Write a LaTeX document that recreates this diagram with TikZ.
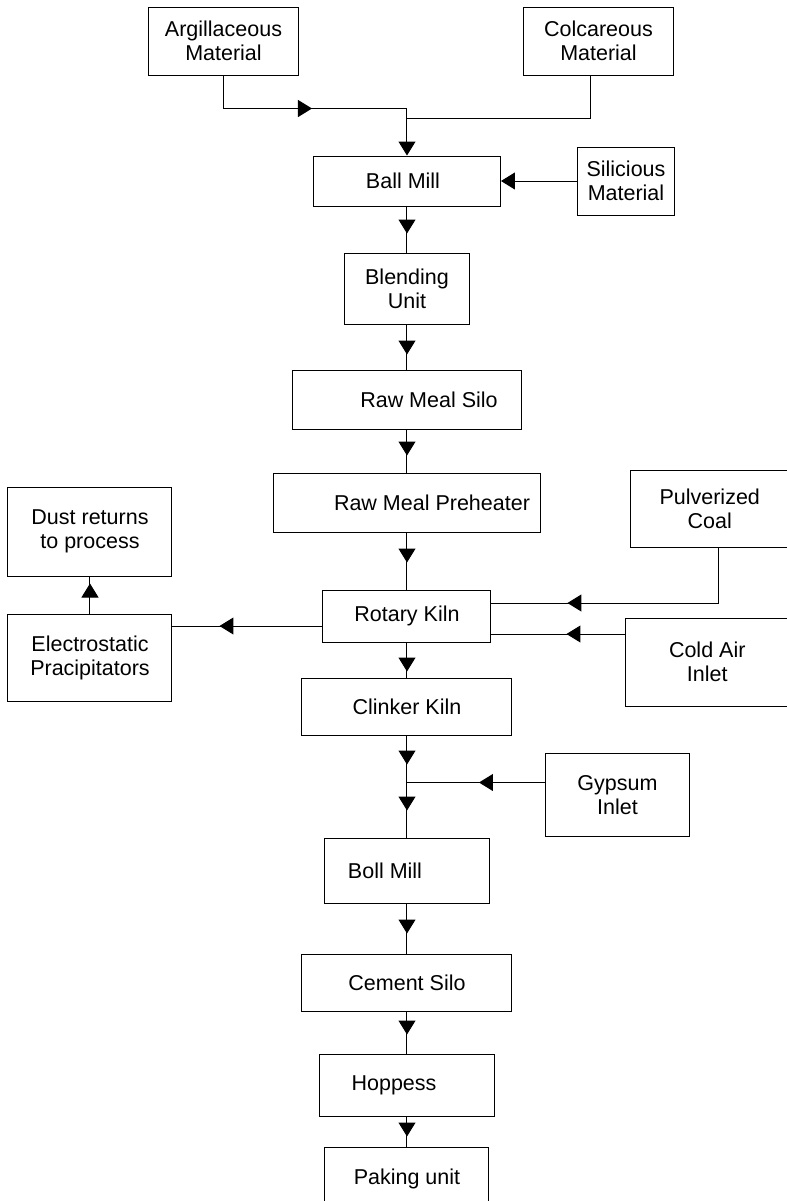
\documentclass[tikz,border=0pt]{standalone}
\usepackage{fontspec}
\setmainfont{Liberation Sans}
\usetikzlibrary{positioning, arrows.meta, decorations.markings}

\tikzset{
    box/.style 2 args={draw, minimum width=#1, minimum height=#2, inner sep=1pt, align=center, font=\fontsize{10.75pt}{12pt}\selectfont},
    flow/.style={postaction={decorate}, decoration={markings, mark=at position #1 with {\arrow{Triangle[length=7pt, width=8.5pt]}}}},
    flow/.default=14pt,
    feed/.style={-{Triangle[length=7pt, width=8.5pt]}},
}

\begin{document}
\begin{tikzpicture}[line width=0.5pt]
    \useasboundingbox (-203.5pt,-510pt) rectangle (190pt,90.5pt);

    \node [box={93.5pt}{25pt}] (ballmill) at (0,0) {Ball Mill\hspace{4pt}};
    \coordinate [above=23.5pt of ballmill] (mjoin);
    \node [box={75pt}{34pt}, above left=40pt and 7pt of ballmill] (argil) {Argillaceous\\Material};
    \node [box={75pt}{34pt}, above right=40pt and 11pt of ballmill] (colc) {Colcareous\\Material};
    \node [box={48.5pt}{34pt}, right=38pt of ballmill] (silicious) {Silicious\\Material};

    \node [box={62.5pt}{35.5pt}, below=23pt of ballmill] (blending) {Blending\\Unit};
    \node [box={114.5pt}{29.5pt}, below=22.5pt of blending] (rawsilo) {\hspace{22pt}Raw Meal Silo};
    \node [box={133.5pt}{29.5pt}, below=21.5pt of rawsilo] (preheater) {\hspace{25pt}Raw Meal Preheater};
    \node [box={84pt}{26pt}, below=28.5pt of preheater] (rotary) {Rotary Kiln};
    \node [box={105pt}{28.5pt}, below=17.5pt of rotary] (clinker) {Clinker Kiln};
    \coordinate [below=23.5pt of clinker] (gjoin);
    \node [box={82.5pt}{32.5pt}, below=27.5pt of gjoin] (bollmill) {Boll Mill\hspace{22pt}};
    \node [box={105pt}{28.5pt}, below=25pt of bollmill] (cemsilo) {Cement Silo};
    \node [box={87.5pt}{31pt}, below=21pt of cemsilo] (hoppess) {Hoppess\hspace{13pt}};
    \node [box={82pt}{31.5pt}, below=15pt of hoppess] (paking) {Paking unit};

    \node [box={78.75pt}{38.5pt}, right=44.75pt of preheater, yshift=-3pt] (coal) {Pulverized\\Coal};
    \node [box={81.25pt}{44pt}, right=67pt of rotary, yshift=-23pt] (coldair) {Cold Air\\Inlet};
    \node [box={82pt}{43.5pt}, left=75pt of rotary, yshift=-20.75pt] (electro) {Electrostatic\\Pracipitators};
    \node [box={82pt}{44.5pt}, above=18.5pt of electro] (dust) {Dust returns\\to process};
    \node [box={72pt}{41.5pt}, right=69pt of gjoin, yshift=-6.25pt] (gypsum) {Gypsum\\Inlet};

    \draw [flow=60.75pt] (argil.south) |- (mjoin);
    \draw ([xshift=-3.75pt]colc.south) |- ([yshift=-5pt]mjoin);
    \draw [feed] (mjoin) -- (ballmill);
    \draw [feed] (silicious) -- (ballmill);
    \draw [flow=13.5pt] (ballmill) -- (blending);
    \draw [flow=15pt] (blending) -- (rawsilo);
    \draw [flow=13pt] (rawsilo) -- (preheater);
    \draw [flow=15pt] (preheater) -- (rotary);
    \draw [flow=14.5pt] (rotary) -- (clinker);
    \draw [flow=14.5pt] (clinker) -- (gjoin);
    \draw [flow=14pt] (gjoin) -- (bollmill);
    \draw [flow=15pt] (bollmill) -- (cemsilo);
    \draw [flow=11.5pt] (cemsilo) -- (hoppess);
    \draw [flow=10pt] (hoppess) -- (paking);
    \draw [flow=103.5pt] ([xshift=4.6pt]coal.south) |- ([yshift=6.5pt]rotary.east);
    \draw [flow=29.5pt] ([yshift=14pt]coldair.west) -- ([yshift=-9pt]rotary.east);
    \draw [flow=51.5pt] ([yshift=-5pt]rotary.west) -- ([yshift=15.75pt]electro.east);
    \draw [flow=15pt] (electro) -- (dust);
    \draw [flow=33pt] ([yshift=6.25pt]gypsum.west) -- (gjoin);
\end{tikzpicture}
\end{document}
